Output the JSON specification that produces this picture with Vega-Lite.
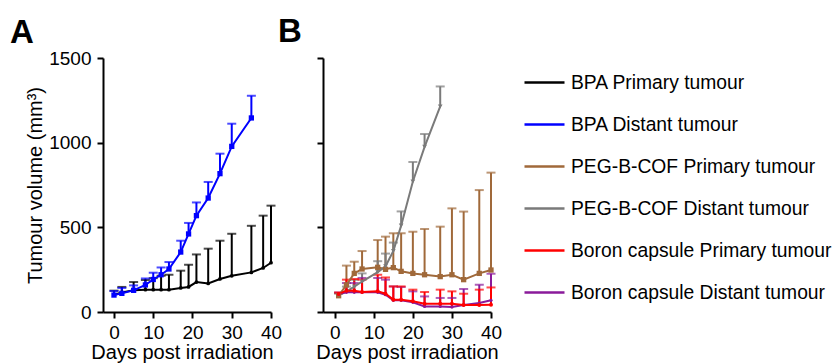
{
  "$schema": "https://vega.github.io/schema/vega-lite/v6.json",
  "autosize": {"type": "none"},
  "padding": {"left": 103, "top": 58, "right": 730, "bottom": 305},
  "config": {
    "view": {"stroke": null},
    "font": "Liberation Sans",
    "axis": {"domainColor": "black", "domainWidth": 2, "tickColor": "black", "tickWidth": 2, "tickSize": 6, "labelColor": "black", "labelFontSize": 19, "labelFont": "Liberation Sans", "titleFont": "Liberation Sans", "titleFontSize": 20, "titleFontWeight": "normal", "titleColor": "black", "grid": false, "labelPadding": 5},
    "legend": {"labelFont": "Liberation Sans", "labelFontSize": 19.3, "labelColor": "black", "labelLimit": 400, "labelOffset": 5, "symbolType": "stroke", "symbolSize": 1600, "symbolStrokeWidth": 2.5, "symbolOpacity": 1, "rowPadding": 10, "padding": 0, "title": null}
  },
  "datasets": {
    "d": [
      {"panel": "A", "series": "BPA Primary tumour", "day": 0, "value": 102, "top": 126},
      {"panel": "A", "series": "BPA Primary tumour", "day": 2, "value": 116, "top": 148},
      {"panel": "A", "series": "BPA Primary tumour", "day": 5, "value": 128, "top": 177},
      {"panel": "A", "series": "BPA Primary tumour", "day": 8, "value": 132, "top": 189},
      {"panel": "A", "series": "BPA Primary tumour", "day": 10, "value": 132, "top": 200},
      {"panel": "A", "series": "BPA Primary tumour", "day": 12, "value": 132, "top": 214},
      {"panel": "A", "series": "BPA Primary tumour", "day": 14, "value": 132, "top": 220},
      {"panel": "A", "series": "BPA Primary tumour", "day": 17, "value": 142, "top": 244},
      {"panel": "A", "series": "BPA Primary tumour", "day": 19, "value": 148, "top": 279},
      {"panel": "A", "series": "BPA Primary tumour", "day": 21, "value": 177, "top": 340},
      {"panel": "A", "series": "BPA Primary tumour", "day": 24, "value": 169, "top": 374},
      {"panel": "A", "series": "BPA Primary tumour", "day": 27, "value": 195, "top": 421},
      {"panel": "A", "series": "BPA Primary tumour", "day": 30, "value": 214, "top": 462},
      {"panel": "A", "series": "BPA Primary tumour", "day": 35, "value": 234, "top": 509},
      {"panel": "A", "series": "BPA Primary tumour", "day": 38, "value": 260, "top": 569},
      {"panel": "A", "series": "BPA Primary tumour", "day": 40, "value": 291, "top": 628},
      {"panel": "A", "series": "BPA Distant tumour", "day": 0, "value": 100, "top": 124},
      {"panel": "A", "series": "BPA Distant tumour", "day": 2, "value": 110, "top": 142},
      {"panel": "A", "series": "BPA Distant tumour", "day": 5, "value": 128, "top": 157},
      {"panel": "A", "series": "BPA Distant tumour", "day": 8, "value": 160, "top": 198},
      {"panel": "A", "series": "BPA Distant tumour", "day": 10, "value": 192, "top": 232},
      {"panel": "A", "series": "BPA Distant tumour", "day": 12, "value": 220, "top": 263},
      {"panel": "A", "series": "BPA Distant tumour", "day": 14, "value": 254, "top": 295},
      {"panel": "A", "series": "BPA Distant tumour", "day": 17, "value": 354, "top": 421},
      {"panel": "A", "series": "BPA Distant tumour", "day": 19, "value": 461, "top": 526},
      {"panel": "A", "series": "BPA Distant tumour", "day": 21, "value": 569, "top": 647},
      {"panel": "A", "series": "BPA Distant tumour", "day": 24, "value": 673, "top": 768},
      {"panel": "A", "series": "BPA Distant tumour", "day": 27, "value": 817, "top": 935},
      {"panel": "A", "series": "BPA Distant tumour", "day": 30, "value": 978, "top": 1112},
      {"panel": "A", "series": "BPA Distant tumour", "day": 35, "value": 1146, "top": 1277},
      {"panel": "B", "series": "PEG-B-COF Primary tumour", "day": 1, "value": 96, "top": 110},
      {"panel": "B", "series": "PEG-B-COF Primary tumour", "day": 3, "value": 160, "top": 274},
      {"panel": "B", "series": "PEG-B-COF Primary tumour", "day": 5, "value": 228, "top": 297},
      {"panel": "B", "series": "PEG-B-COF Primary tumour", "day": 7, "value": 254, "top": 360},
      {"panel": "B", "series": "PEG-B-COF Primary tumour", "day": 11, "value": 264, "top": 425},
      {"panel": "B", "series": "PEG-B-COF Primary tumour", "day": 13, "value": 252, "top": 445},
      {"panel": "B", "series": "PEG-B-COF Primary tumour", "day": 15, "value": 262, "top": 465},
      {"panel": "B", "series": "PEG-B-COF Primary tumour", "day": 17, "value": 240, "top": 465},
      {"panel": "B", "series": "PEG-B-COF Primary tumour", "day": 20, "value": 228, "top": 474},
      {"panel": "B", "series": "PEG-B-COF Primary tumour", "day": 23, "value": 220, "top": 490},
      {"panel": "B", "series": "PEG-B-COF Primary tumour", "day": 27, "value": 209, "top": 504},
      {"panel": "B", "series": "PEG-B-COF Primary tumour", "day": 30, "value": 220, "top": 612},
      {"panel": "B", "series": "PEG-B-COF Primary tumour", "day": 33, "value": 191, "top": 593},
      {"panel": "B", "series": "PEG-B-COF Primary tumour", "day": 37, "value": 228, "top": 720},
      {"panel": "B", "series": "PEG-B-COF Primary tumour", "day": 40, "value": 248, "top": 823},
      {"panel": "B", "series": "PEG-B-COF Distant tumour", "day": 1, "value": 100, "top": 110},
      {"panel": "B", "series": "PEG-B-COF Distant tumour", "day": 3, "value": 120, "top": 150},
      {"panel": "B", "series": "PEG-B-COF Distant tumour", "day": 5, "value": 150, "top": 190},
      {"panel": "B", "series": "PEG-B-COF Distant tumour", "day": 7, "value": 180, "top": 228},
      {"panel": "B", "series": "PEG-B-COF Distant tumour", "day": 11, "value": 235, "top": 300},
      {"panel": "B", "series": "PEG-B-COF Distant tumour", "day": 13, "value": 270, "top": 345},
      {"panel": "B", "series": "PEG-B-COF Distant tumour", "day": 15, "value": 360, "top": 410},
      {"panel": "B", "series": "PEG-B-COF Distant tumour", "day": 17, "value": 510, "top": 594},
      {"panel": "B", "series": "PEG-B-COF Distant tumour", "day": 20, "value": 771, "top": 886},
      {"panel": "B", "series": "PEG-B-COF Distant tumour", "day": 23, "value": 975, "top": 1051},
      {"panel": "B", "series": "PEG-B-COF Distant tumour", "day": 27, "value": 1214, "top": 1332},
      {"panel": "B", "series": "Boron capsule Distant tumour", "day": 1, "value": 106, "top": 115},
      {"panel": "B", "series": "Boron capsule Distant tumour", "day": 3, "value": 116, "top": 171},
      {"panel": "B", "series": "Boron capsule Distant tumour", "day": 5, "value": 116, "top": 171},
      {"panel": "B", "series": "Boron capsule Distant tumour", "day": 7, "value": 116, "top": 201},
      {"panel": "B", "series": "Boron capsule Distant tumour", "day": 11, "value": 116, "top": 201},
      {"panel": "B", "series": "Boron capsule Distant tumour", "day": 13, "value": 102, "top": 191},
      {"panel": "B", "series": "Boron capsule Distant tumour", "day": 15, "value": 69, "top": 151},
      {"panel": "B", "series": "Boron capsule Distant tumour", "day": 17, "value": 69, "top": 148},
      {"panel": "B", "series": "Boron capsule Distant tumour", "day": 20, "value": 57, "top": 122},
      {"panel": "B", "series": "Boron capsule Distant tumour", "day": 23, "value": 33, "top": 92},
      {"panel": "B", "series": "Boron capsule Distant tumour", "day": 27, "value": 33, "top": 83},
      {"panel": "B", "series": "Boron capsule Distant tumour", "day": 30, "value": 29, "top": 83},
      {"panel": "B", "series": "Boron capsule Distant tumour", "day": 33, "value": 41, "top": 136},
      {"panel": "B", "series": "Boron capsule Distant tumour", "day": 37, "value": 53, "top": 161},
      {"panel": "B", "series": "Boron capsule Distant tumour", "day": 40, "value": 69, "top": 226},
      {"panel": "B", "series": "Boron capsule Primary tumour", "day": 1, "value": 106, "top": 115},
      {"panel": "B", "series": "Boron capsule Primary tumour", "day": 3, "value": 126, "top": 191},
      {"panel": "B", "series": "Boron capsule Primary tumour", "day": 5, "value": 126, "top": 195},
      {"panel": "B", "series": "Boron capsule Primary tumour", "day": 7, "value": 118, "top": 191},
      {"panel": "B", "series": "Boron capsule Primary tumour", "day": 11, "value": 122, "top": 220},
      {"panel": "B", "series": "Boron capsule Primary tumour", "day": 13, "value": 108, "top": 204},
      {"panel": "B", "series": "Boron capsule Primary tumour", "day": 15, "value": 73, "top": 151},
      {"panel": "B", "series": "Boron capsule Primary tumour", "day": 17, "value": 73, "top": 151},
      {"panel": "B", "series": "Boron capsule Primary tumour", "day": 20, "value": 63, "top": 132},
      {"panel": "B", "series": "Boron capsule Primary tumour", "day": 23, "value": 49, "top": 118},
      {"panel": "B", "series": "Boron capsule Primary tumour", "day": 27, "value": 49, "top": 132},
      {"panel": "B", "series": "Boron capsule Primary tumour", "day": 30, "value": 49, "top": 122},
      {"panel": "B", "series": "Boron capsule Primary tumour", "day": 33, "value": 41, "top": 108},
      {"panel": "B", "series": "Boron capsule Primary tumour", "day": 37, "value": 41, "top": 132},
      {"panel": "B", "series": "Boron capsule Primary tumour", "day": 40, "value": 43, "top": 145}
    ]
  },
  "data": {"name": "d"},
  "spacing": 52,
  "bounds": "flush",
  "hconcat": [
    {
      "width": 168,
      "height": 254,
      "title": {"text": "A", "anchor": "start", "frame": "group", "dx": -93, "offset": -1, "fontSize": 33, "fontWeight": "bold", "font": "Liberation Sans", "color": "black"},
      "transform": [{"filter": "datum.panel == 'A'"}],
      "encoding": {
        "x": {"field": "day", "type": "quantitative", "scale": {"domain": [-2.8, 40], "nice": false, "zero": false}, "axis": {"values": [0, 10, 20, 30, 40], "title": "Days post irradiation", "titlePadding": 0, "titleX": 79, "labelFlush": false}},
        "color": {"field": "series", "type": "nominal", "scale": {"domain": ["BPA Primary tumour", "BPA Distant tumour", "PEG-B-COF Primary tumour", "PEG-B-COF Distant tumour", "Boron capsule Primary tumour", "Boron capsule Distant tumour"], "range": ["#000000", "#0000ff", "#a0693a", "#7a7a7a", "#ff0000", "#8a1a9a"]}, "legend": {"orient": "none", "legendX": 420, "legendY": 3}}
      },
      "layer": [
        {"mark": {"type": "rule", "strokeWidth": 2}, "encoding": {"y": {"field": "value", "type": "quantitative", "scale": {"domain": [0, 1500], "nice": false}, "axis": {"values": [0, 500, 1000, 1500], "format": "d", "title": "Tumour volume (mm³)", "titlePadding": 3, "labelPadding": 6}}, "y2": {"field": "top"}}},
        {"mark": {"type": "tick", "orient": "horizontal", "size": 9, "thickness": 2}, "encoding": {"y": {"field": "top", "type": "quantitative", "title": "Tumour volume (mm³)"}}},
        {"mark": {"type": "line", "strokeWidth": 2}, "encoding": {"y": {"field": "value", "type": "quantitative", "title": "Tumour volume (mm³)"}}},
        {"mark": {"type": "point", "filled": true, "opacity": 1}, "encoding": {"y": {"field": "value", "type": "quantitative", "title": "Tumour volume (mm³)"},
          "shape": {"field": "series", "type": "nominal", "scale": {"domain": ["BPA Primary tumour", "BPA Distant tumour"], "range": ["circle", "square"]}, "legend": null},
          "size": {"field": "series", "type": "nominal", "scale": {"domain": ["BPA Primary tumour", "BPA Distant tumour"], "range": [14, 28]}, "legend": null}}}
      ]
    },
    {
      "width": 168,
      "height": 254,
      "title": {"text": "B", "anchor": "start", "frame": "group", "dx": -45, "offset": 8, "fontSize": 33, "fontWeight": "bold", "font": "Liberation Sans", "color": "black"},
      "transform": [{"filter": "datum.panel == 'B'"}],
      "encoding": {
        "x": {"field": "day", "type": "quantitative", "scale": {"domain": [-3, 40], "nice": false, "zero": false}, "axis": {"values": [0, 10, 20, 30, 40], "title": "Days post irradiation", "titlePadding": 0, "labelFlush": false}},
        "color": {"field": "series", "type": "nominal", "scale": {"domain": ["BPA Primary tumour", "BPA Distant tumour", "PEG-B-COF Primary tumour", "PEG-B-COF Distant tumour", "Boron capsule Primary tumour", "Boron capsule Distant tumour"], "range": ["#000000", "#0000ff", "#a0693a", "#7a7a7a", "#ff0000", "#8a1a9a"]}, "legend": {"orient": "none", "legendX": 420, "legendY": 3}}
      },
      "layer": [
        {"mark": {"type": "rule", "strokeWidth": 2}, "encoding": {"y": {"field": "value", "type": "quantitative", "scale": {"domain": [0, 1500], "nice": false}, "axis": {"values": [0, 500, 1000, 1500], "title": null, "labels": false}}, "y2": {"field": "top"}}},
        {"mark": {"type": "tick", "orient": "horizontal", "size": 9, "thickness": 2}, "encoding": {"y": {"field": "top", "type": "quantitative", "title": null}}},
        {"mark": {"type": "line", "strokeWidth": 2}, "encoding": {"y": {"field": "value", "type": "quantitative", "title": null}}},
        {"mark": {"type": "point", "filled": true, "opacity": 1}, "encoding": {"y": {"field": "value", "type": "quantitative", "title": null},
          "shape": {"field": "series", "type": "nominal", "scale": {"domain": ["PEG-B-COF Primary tumour", "PEG-B-COF Distant tumour", "Boron capsule Primary tumour", "Boron capsule Distant tumour"], "range": ["square", "triangle-down", "circle", "circle"]}, "legend": null},
          "size": {"field": "series", "type": "nominal", "scale": {"domain": ["PEG-B-COF Primary tumour", "PEG-B-COF Distant tumour", "Boron capsule Primary tumour", "Boron capsule Distant tumour"], "range": [28, 10, 12, 10]}, "legend": null}}}
      ]
    }
  ],
  "resolve": {"scale": {"shape": "independent", "size": "independent"}}
}
